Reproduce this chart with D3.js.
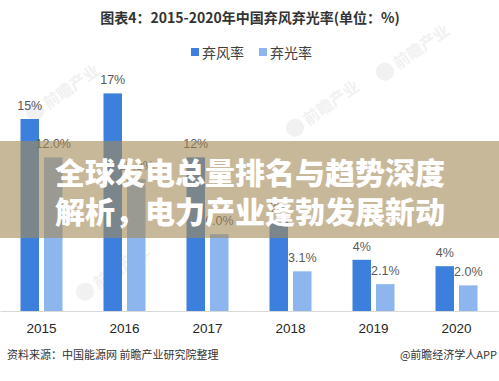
<!DOCTYPE html>
<html><head><meta charset="utf-8">
<script src="https://cdn.jsdelivr.net/npm/d3@7"></script>
<style>html,body{margin:0;padding:0;background:#fff;}svg{display:block;}</style>
</head><body>
<script>
const years = ["2015","2016","2017","2018","2019","2020"];
const windRate = [15, 17, 12, 7, 4, 3.5];
const solarRate = [12.0, 10.3, 6.0, 3.1, 2.1, 2.0];
const seriesNames = ["弃风率", "弃光率"];
const seriesColors = ["#3d7fdc", "#8db5ee"];
const titleText = "图表4：2015-2020年中国弃风弃光率(单位：%)";
const bannerLines = ["全球发电总量排名与趋势深度", "解析，电力产业蓬勃发展新动"];
const sourceText = "资料来源：中国能源网 前瞻产业研究院整理";
const creditText = "@前瞻经济学人APP";

const W = 499, H = 381;
const svg = d3.select("body").append("svg").attr("width", W).attr("height", H);
const cjk = "'Noto Sans CJK SC', 'Noto Sans', sans-serif";
const lat = "'Liberation Sans', Arial, sans-serif";

// faint watermarks
const wm = svg.append("g").attr("fill", "#f1f1f1").attr("font-family", cjk).attr("font-weight", "bold");
[[45,112],[305,128],[95,292],[395,72]].forEach(([x,y]) => {
  const g = wm.append("g").attr("transform", `translate(${x},${y}) rotate(-35)`);
  g.append("circle").attr("cx", -8).attr("cy", -6).attr("r", 9);
  g.append("text").attr("x", 4).attr("y", 0).attr("font-size", 16).text("前瞻产业");
});

const data = years.map((y, i) => ({year: y, vals: [windRate[i], solarRate[i]]}));

const x0 = d3.scaleBand().domain(years).range([0, 498]).padding(0);
const x1 = d3.scaleBand().domain([0, 1]).range([20.5, 62.5]).paddingInner(0.213);
const y = d3.scaleLinear().domain([0, 17]).range([311, 93.4]);

// axis
const xAxis = d3.axisBottom(x0).tickSize(0).tickPadding(12);
const ax = svg.append("g").attr("transform", "translate(0,311)").call(xAxis);
ax.select(".domain").attr("stroke", "#d9d9d9").attr("stroke-width", 1.2);
ax.selectAll("text").attr("font-family", lat).attr("font-size", 13.5).attr("fill", "#262626");

const groups = svg.append("g").selectAll("g").data(data).join("g")
  .attr("transform", d => `translate(${x0(d.year)},0)`);
groups.selectAll("rect").data(d => d.vals.map((v, k) => ({v, k}))).join("rect")
  .attr("x", d => x1(d.k)).attr("width", x1.bandwidth())
  .attr("y", d => y(d.v)).attr("height", d => 311 - y(d.v))
  .attr("fill", d => seriesColors[d.k]);
const fmtW = d3.format(".0f"), fmtS = d3.format(".1f");
groups.selectAll("text.v").data(d => d.vals.map((v, k) => ({v, k}))).join("text")
  .attr("class", "v")
  .attr("x", d => x1(d.k) + x1.bandwidth() / 2)
  .attr("y", d => y(d.v) - 9)
  .attr("text-anchor", "middle")
  .attr("font-family", lat).attr("font-size", 12.5).attr("fill", "#595959")
  .text(d => (d.k === 0 ? fmtW(d.v) : fmtS(d.v)) + "%");

// title
svg.append("text").attr("x", 250).attr("y", 23).attr("text-anchor", "middle")
  .attr("font-family", cjk).attr("font-weight", "bold").attr("font-size", 14).attr("fill", "#333")
  .text(titleText);

// legend
const legX = [191, 259];
seriesNames.forEach((n, i) => {
  svg.append("rect").attr("x", legX[i]).attr("y", 48).attr("width", 8).attr("height", 8).attr("fill", seriesColors[i]);
  svg.append("text").attr("x", legX[i] + 11).attr("y", 57.5)
    .attr("font-family", cjk).attr("font-size", 14).attr("fill", "#404040").text(n);
});

// banner
svg.append("rect").attr("x", 0).attr("y", 141).attr("width", W).attr("height", 97)
  .attr("fill", "rgb(163,137,87)").attr("fill-opacity", 0.6);
bannerLines.forEach((t, i) => {
  svg.append("text").attr("x", 250).attr("y", [173, 212][i]).attr("dy", "0.36em")
    .attr("text-anchor", "middle").attr("font-family", cjk).attr("font-weight", 900)
    .attr("font-size", 30).attr("fill", "#fff").text(t);
});

// footer
svg.append("text").attr("x", 7).attr("y", 359).attr("font-family", cjk).attr("font-size", 11)
  .attr("fill", "#333").text(sourceText);
svg.append("text").attr("x", 497).attr("y", 359).attr("text-anchor", "end").attr("font-family", cjk)
  .attr("font-size", 11).attr("fill", "#333").text(creditText);
</script>
</body></html>
